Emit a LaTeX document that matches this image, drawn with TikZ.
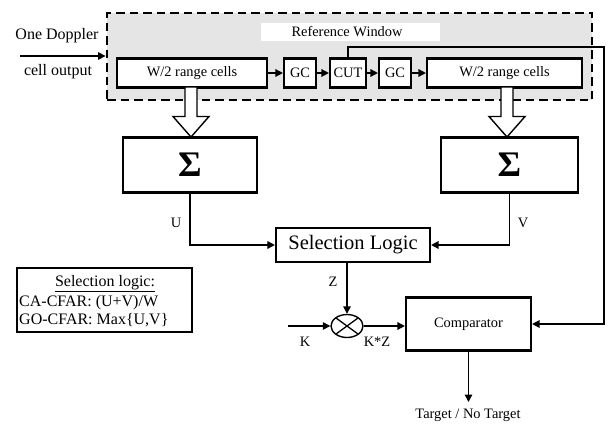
\documentclass[tikz,border=0pt]{standalone}
\usepackage{fontspec}
\setmainfont{Liberation Serif}
\usetikzlibrary{arrows.meta,shapes.geometric}
\tikzset{
  blk/.style={draw,line width=2.1pt,fill=white,inner sep=0pt,font=\fontsize{14.4}{16}\selectfont},
  conn/.style={line width=1.4pt},
  arr/.style={conn,-{Triangle[length=7.5pt,width=7.5pt]}},
  lbl/.style={font=\fontsize{14.4}{16}\selectfont,inner sep=0pt},
  hollow/.style={draw,line width=1.4pt,fill=white}
}
\begin{document}
\begin{tikzpicture}[x=1pt,y=-1pt]
\useasboundingbox (0,0) rectangle (610,426);

% reference window
\node[draw,line width=2.8pt,dash pattern=on 8.5pt off 5pt,fill=black!10,
      minimum width=485pt,minimum height=87pt,inner sep=0pt] (win) at (349.5,56.5) {};
\node[fill=white,minimum width=179pt,minimum height=18pt,inner sep=0pt] (rwbox) at (350.5,32) {};
\node[lbl] (rwtxt) at (347,32) {Reference Window};

% input
\node[font=\fontsize{16}{18}\selectfont,inner sep=0pt] (in1) at (57,36) {One Doppler};
\node[font=\fontsize{16}{18}\selectfont,inner sep=0pt] (in2) at (58,72) {cell output};
\coordinate (inp) at (20,56);
\draw[arr] (inp) -- (inp -| win.west);

% cells
\node[blk,minimum width=150pt,minimum height=29pt] (wl) at (192,73) {W/2 range cells};
\node[blk,minimum width=32pt,minimum height=29pt] (gc1) at (300,73) {GC};
\node[blk,minimum width=36pt,minimum height=29pt] (cut) at (348,73) {CUT};
\node[blk,minimum width=32pt,minimum height=29pt] (gc2) at (395,73) {GC};
\node[blk,minimum width=155pt,minimum height=29pt] (wr) at (504.5,73) {W/2 range cells};
\draw[arr] (wl) -- (gc1);
\draw[arr] (gc1) -- (cut);
\draw[arr] (cut) -- (gc2);
\draw[arr] (gc2) -- (wr);

% summers
\node[blk,minimum width=134pt,minimum height=55pt,font=\fontsize{36}{38}\selectfont\bfseries] (sl) at (190,165) {Σ};
\node[blk,minimum width=137pt,minimum height=55pt,font=\fontsize{36}{38}\selectfont\bfseries] (sr) at (509.5,165) {Σ};

% hollow arrows
\draw[hollow] (185,87) -- (197,87) -- (197,116.5) -- (209,116.5) -- (191,137) -- (173,116.5) -- (185,116.5) -- cycle;
\draw[hollow] (501,87) -- (513,87) -- (513,116.5) -- (525,116.5) -- (507,137) -- (489,116.5) -- (501,116.5) -- cycle;

% selection logic
\node[blk,minimum width=154pt,minimum height=34pt,font=\fontsize{20.5}{22}\selectfont] (sel) at (353,245) {Selection Logic};
\draw[arr] (sl.south) |- (sel.west);
\draw[arr] (sr.south) |- (sel.east);
\node[lbl] (ul) at (176,223) {U};
\node[lbl] (vl) at (523,223) {V};

% multiplier
\node[draw,ellipse,line width=1.4pt,minimum width=32pt,minimum height=23pt,inner sep=0pt] (mult) at (347,326) {};
\draw[line width=1.3pt] ([shift={(-11,-8)}]mult.center) -- ([shift={(11,8)}]mult.center);
\draw[line width=1.3pt] ([shift={(-11,8)}]mult.center) -- ([shift={(11,-8)}]mult.center);
\draw[arr] (sel.south -| mult) -- (mult.north);
\node[lbl] (zl) at (333,282) {Z};
\coordinate (kin) at (288,326);
\draw[arr] (kin) -- (mult.west);
\node[lbl] (kl) at (305,342) {K};
\node[lbl] (kzl) at (377,342) {K*Z};

% comparator
\node[blk,minimum width=125pt,minimum height=53pt] (cmp) at (468.5,324) {Comparator};
\draw[arr] (mult.east) -- (mult.east -| cmp.west);
\coordinate (fb1) at (348,47);
\coordinate (fb2) at (604,47);
\draw[arr] (cut.north) -- (fb1) -- (fb2) |- (cmp.east);
\coordinate (outp) at (468.5,402);
\draw[arr] (cmp.south) -- (outp);
\node[lbl] (tgt) at (468,415) {Target / No Target};

% legend
\node[draw,line width=2.1pt,minimum width=175pt,minimum height=64pt,inner sep=0pt] (leg) at (104.5,300) {};
\node[font=\fontsize{16}{18}\selectfont,inner sep=0pt] (leg1) at (105,284) {\underline{Selection logic:}};
\node[font=\fontsize{16}{18}\selectfont,inner sep=0pt,anchor=west] (leg2) at (19,303) {CA-CFAR: (U+V)/W};
\node[font=\fontsize{16}{18}\selectfont,inner sep=0pt,anchor=west] (leg3) at (19,320) {GO-CFAR: Max\{U,V\}};
\end{tikzpicture}
\end{document}
